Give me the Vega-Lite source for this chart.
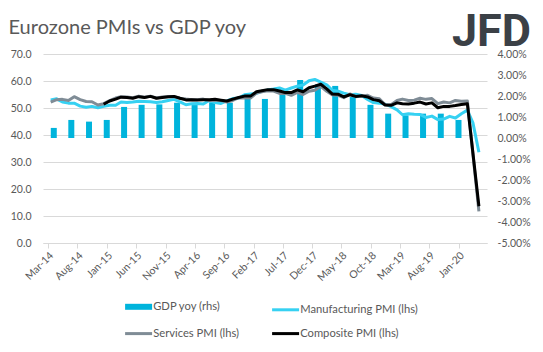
{
  "$schema": "https://vega.github.io/schema/vega-lite/v6.json",
  "width": 444,
  "height": 189,
  "autosize": "none",
  "padding": {"left": 43, "top": 54, "right": 56, "bottom": 109},
  "background": "white",
  "config": {"view": {"stroke": null}, "font": "Lato"},
  "datasets": {
    "gdp": [
      {"d": "2014-03-31", "gdp": 0.48}, {"d": "2014-06-30", "gdp": 0.86}, {"d": "2014-09-30", "gdp": 0.78}, {"d": "2014-12-31", "gdp": 0.86},
      {"d": "2015-03-31", "gdp": 1.48}, {"d": "2015-06-30", "gdp": 1.58}, {"d": "2015-09-30", "gdp": 1.6}, {"d": "2015-12-31", "gdp": 1.68},
      {"d": "2016-03-31", "gdp": 1.57}, {"d": "2016-06-30", "gdp": 1.7}, {"d": "2016-09-30", "gdp": 1.68}, {"d": "2016-12-31", "gdp": 1.86},
      {"d": "2017-03-31", "gdp": 1.86}, {"d": "2017-06-30", "gdp": 2.06}, {"d": "2017-09-30", "gdp": 2.76}, {"d": "2017-12-31", "gdp": 2.55},
      {"d": "2018-03-31", "gdp": 2.48}, {"d": "2018-06-30", "gdp": 1.95}, {"d": "2018-09-30", "gdp": 1.58}, {"d": "2018-12-31", "gdp": 1.16},
      {"d": "2019-03-31", "gdp": 1.08}, {"d": "2019-06-30", "gdp": 1.16}, {"d": "2019-09-30", "gdp": 1.16}, {"d": "2019-12-31", "gdp": 0.86}
    ],
    "pmi": [
      {"d": "2014-03-15", "mfg": 53.0, "serv": 52.2, "comp": null},
      {"d": "2014-04-15", "mfg": 53.4, "serv": 53.1, "comp": null},
      {"d": "2014-05-15", "mfg": 52.2, "serv": 53.2, "comp": null},
      {"d": "2014-06-15", "mfg": 51.8, "serv": 52.8, "comp": null},
      {"d": "2014-07-15", "mfg": 51.8, "serv": 54.2, "comp": null},
      {"d": "2014-08-15", "mfg": 50.7, "serv": 53.1, "comp": null},
      {"d": "2014-09-15", "mfg": 50.3, "serv": 52.4, "comp": null},
      {"d": "2014-10-15", "mfg": 50.6, "serv": 52.3, "comp": null},
      {"d": "2014-11-15", "mfg": 50.1, "serv": 51.1, "comp": null},
      {"d": "2014-12-15", "mfg": 50.6, "serv": 51.6, "comp": 51.4},
      {"d": "2015-01-15", "mfg": 51.0, "serv": 52.7, "comp": 52.6},
      {"d": "2015-02-15", "mfg": 51.0, "serv": 53.7, "comp": 53.3},
      {"d": "2015-03-15", "mfg": 52.2, "serv": 54.2, "comp": 54.0},
      {"d": "2015-04-15", "mfg": 52.0, "serv": 54.1, "comp": 53.9},
      {"d": "2015-05-15", "mfg": 52.2, "serv": 53.8, "comp": 53.6},
      {"d": "2015-06-15", "mfg": 52.5, "serv": 54.4, "comp": 54.2},
      {"d": "2015-07-15", "mfg": 52.4, "serv": 54.0, "comp": 53.9},
      {"d": "2015-08-15", "mfg": 52.3, "serv": 54.4, "comp": 54.3},
      {"d": "2015-09-15", "mfg": 52.0, "serv": 53.7, "comp": 53.6},
      {"d": "2015-10-15", "mfg": 52.3, "serv": 54.1, "comp": 53.9},
      {"d": "2015-11-15", "mfg": 52.8, "serv": 54.2, "comp": 54.2},
      {"d": "2015-12-15", "mfg": 53.2, "serv": 54.2, "comp": 54.3},
      {"d": "2016-01-15", "mfg": 52.3, "serv": 53.6, "comp": 53.6},
      {"d": "2016-02-15", "mfg": 51.2, "serv": 53.3, "comp": 53.0},
      {"d": "2016-03-15", "mfg": 51.6, "serv": 53.1, "comp": 53.1},
      {"d": "2016-04-15", "mfg": 51.7, "serv": 53.1, "comp": 53.0},
      {"d": "2016-05-15", "mfg": 51.5, "serv": 53.3, "comp": 53.1},
      {"d": "2016-06-15", "mfg": 52.8, "serv": 52.8, "comp": 53.1},
      {"d": "2016-07-15", "mfg": 52.0, "serv": 52.9, "comp": 53.2},
      {"d": "2016-08-15", "mfg": 51.7, "serv": 52.8, "comp": 52.9},
      {"d": "2016-09-15", "mfg": 52.6, "serv": 52.2, "comp": 52.6},
      {"d": "2016-10-15", "mfg": 53.5, "serv": 52.8, "comp": 53.3},
      {"d": "2016-11-15", "mfg": 53.7, "serv": 53.8, "comp": 53.9},
      {"d": "2016-12-15", "mfg": 54.9, "serv": 53.7, "comp": 54.4},
      {"d": "2017-01-15", "mfg": 55.2, "serv": 53.7, "comp": 54.4},
      {"d": "2017-02-15", "mfg": 55.4, "serv": 55.5, "comp": 56.0},
      {"d": "2017-03-15", "mfg": 56.2, "serv": 56.0, "comp": 56.4},
      {"d": "2017-04-15", "mfg": 56.7, "serv": 56.4, "comp": 56.8},
      {"d": "2017-05-15", "mfg": 57.0, "serv": 56.3, "comp": 56.8},
      {"d": "2017-06-15", "mfg": 57.4, "serv": 55.4, "comp": 56.3},
      {"d": "2017-07-15", "mfg": 56.6, "serv": 55.4, "comp": 55.7},
      {"d": "2017-08-15", "mfg": 57.4, "serv": 54.7, "comp": 55.7},
      {"d": "2017-09-15", "mfg": 58.1, "serv": 55.8, "comp": 56.7},
      {"d": "2017-10-15", "mfg": 58.5, "serv": 55.0, "comp": 56.0},
      {"d": "2017-11-15", "mfg": 60.1, "serv": 56.2, "comp": 57.5},
      {"d": "2017-12-15", "mfg": 60.6, "serv": 56.6, "comp": 58.1},
      {"d": "2018-01-15", "mfg": 59.6, "serv": 58.0, "comp": 58.8},
      {"d": "2018-02-15", "mfg": 58.6, "serv": 56.2, "comp": 57.1},
      {"d": "2018-03-15", "mfg": 56.6, "serv": 54.9, "comp": 55.2},
      {"d": "2018-04-15", "mfg": 56.2, "serv": 54.7, "comp": 55.1},
      {"d": "2018-05-15", "mfg": 55.5, "serv": 53.8, "comp": 54.1},
      {"d": "2018-06-15", "mfg": 54.9, "serv": 55.2, "comp": 54.9},
      {"d": "2018-07-15", "mfg": 55.1, "serv": 54.2, "comp": 54.3},
      {"d": "2018-08-15", "mfg": 54.6, "serv": 54.4, "comp": 54.5},
      {"d": "2018-09-15", "mfg": 53.2, "serv": 54.7, "comp": 54.1},
      {"d": "2018-10-15", "mfg": 52.0, "serv": 53.7, "comp": 53.1},
      {"d": "2018-11-15", "mfg": 51.8, "serv": 53.4, "comp": 52.7},
      {"d": "2018-12-15", "mfg": 51.4, "serv": 51.2, "comp": 51.1},
      {"d": "2019-01-15", "mfg": 50.5, "serv": 51.2, "comp": 51.0},
      {"d": "2019-02-15", "mfg": 49.3, "serv": 52.8, "comp": 51.9},
      {"d": "2019-03-15", "mfg": 47.5, "serv": 53.3, "comp": 51.6},
      {"d": "2019-04-15", "mfg": 47.9, "serv": 52.8, "comp": 51.5},
      {"d": "2019-05-15", "mfg": 47.7, "serv": 52.9, "comp": 51.8},
      {"d": "2019-06-15", "mfg": 47.6, "serv": 53.6, "comp": 52.2},
      {"d": "2019-07-15", "mfg": 46.5, "serv": 53.2, "comp": 51.5},
      {"d": "2019-08-15", "mfg": 47.0, "serv": 53.5, "comp": 51.9},
      {"d": "2019-09-15", "mfg": 45.7, "serv": 51.6, "comp": 50.1},
      {"d": "2019-10-15", "mfg": 45.9, "serv": 52.2, "comp": 50.6},
      {"d": "2019-11-15", "mfg": 46.9, "serv": 51.9, "comp": 50.6},
      {"d": "2019-12-15", "mfg": 46.3, "serv": 52.8, "comp": 50.9},
      {"d": "2020-01-15", "mfg": 47.9, "serv": 52.5, "comp": 51.3},
      {"d": "2020-02-15", "mfg": 49.2, "serv": 52.6, "comp": 51.6},
      {"d": "2020-03-15", "mfg": 44.5, "serv": null, "comp": null},
      {"d": "2020-04-15", "mfg": 33.6, "serv": 11.7, "comp": 13.6}
    ]
  },
  "encoding": {
    "x": {
      "field": "d",
      "type": "temporal",
      "title": null,
      "scale": {"type": "utc", "domain": [{"year": 2014, "month": 3, "date": 1, "utc": true}, {"year": 2020, "month": 5, "date": 1, "utc": true}]},
      "axis": {
        "values": [
          {"year": 2014, "month": 3, "date": 1, "utc": true}, {"year": 2014, "month": 8, "date": 1, "utc": true},
          {"year": 2015, "month": 1, "date": 1, "utc": true}, {"year": 2015, "month": 6, "date": 1, "utc": true},
          {"year": 2015, "month": 11, "date": 1, "utc": true}, {"year": 2016, "month": 4, "date": 1, "utc": true},
          {"year": 2016, "month": 9, "date": 1, "utc": true}, {"year": 2017, "month": 2, "date": 1, "utc": true},
          {"year": 2017, "month": 7, "date": 1, "utc": true}, {"year": 2017, "month": 12, "date": 1, "utc": true},
          {"year": 2018, "month": 5, "date": 1, "utc": true}, {"year": 2018, "month": 10, "date": 1, "utc": true},
          {"year": 2019, "month": 3, "date": 1, "utc": true}, {"year": 2019, "month": 8, "date": 1, "utc": true},
          {"year": 2020, "month": 1, "date": 1, "utc": true}
        ],
        "labelExpr": "utcFormat(datum.value, '%b-%y')",
        "labelAngle": -45,
        "labelFontSize": 10.5,
        "labelColor": "#595959",
        "labelFont": "Lato",
        "labelPadding": 2,
        "labelOverlap": false,
        "labelFlush": false,
        "grid": false,
        "domainColor": "#d9d9d9",
        "tickColor": "#d9d9d9",
        "tickSize": 5
      }
    }
  },
  "layer": [
    {
      "data": {"name": "gdp"},
      "mark": {"type": "bar", "size": 6},
      "encoding": {
        "y": {
          "field": "gdp",
          "type": "quantitative",
          "scale": {"domain": [-5, 4], "nice": false},
          "axis": {
            "orient": "right",
            "title": "JFD",
            "values": [-5, -4, -3, -2, -1, 0, 1, 2, 3, 4],
            "labelExpr": "replace(format(datum.value, '.2f'), '\u2212', '-') + '%'",
            "labelOverlap": false,
            "labelAlign": "left",
            "grid": false,
            "domain": false,
            "ticks": false,
            "labelPadding": 10,
            "labelFontSize": 10.5,
            "labelColor": "#595959",
            "labelFont": "Lato",
            "titleAngle": 0,
            "titleX": 4,
            "titleY": -9,
            "titleAlign": "center",
            "titleBaseline": "alphabetic",
            "titleFont": "Roboto",
            "titleFontSize": 45,
            "titleFontWeight": "bold",
            "titleColor": "#3b4046"
          }
        },
        "color": {
          "datum": "GDP yoy (rhs)",
          "scale": {
            "domain": ["GDP yoy (rhs)", "Services PMI (lhs)", "Manufacturing PMI (lhs)", "Composite PMI (lhs)"],
            "range": ["#00b4dc", "#7f8c96", "#36d1f2", "#000000"]
          },
          "legend": {
            "orient": "none",
            "legendX": 90,
            "legendY": 247,
            "columns": 2,
            "title": null,
            "symbolType": "stroke",
            "symbolSize": 729,
            "symbolStrokeWidth": 3,
            "labelFont": "Lato",
            "labelFontSize": 11.2,
            "labelColor": "#595959",
            "labelOffset": 9,
            "columnPadding": 26,
            "rowPadding": 8,
            "encode": {
              "symbols": {
                "update": {
                  "strokeWidth": {"signal": "datum.label === 'GDP yoy (rhs)' ? 6 : 3"},
                  "stroke": {"scale": "color", "field": "value"},
                  "fill": {"value": "transparent"}
                }
              }
            }
          }
        }
      }
    },
    {
      "layer": [
        {
          "data": {"name": "pmi"},
          "mark": {"type": "line", "strokeWidth": 3, "invalid": "filter", "strokeJoin": "round"},
          "encoding": {
            "y": {
              "field": "mfg",
              "type": "quantitative",
              "scale": {"domain": [0, 70], "nice": false},
              "axis": {
                "orient": "left",
                "title": "Eurozone PMIs vs GDP yoy",
                "values": [0, 10, 20, 30, 40, 50, 60, 70],
                "format": ".1f",
                "labelOverlap": false,
                "grid": true,
                "gridColor": "#d9d9d9",
                "domain": false,
                "ticks": false,
                "labelPadding": 12,
                "labelFontSize": 10.5,
                "labelColor": "#595959",
                "labelFont": "Lato",
                "titleAngle": 0,
                "titleX": -35,
                "titleY": -21,
                "titleAlign": "left",
                "titleBaseline": "alphabetic",
                "titleFont": "Lato",
                "titleFontSize": 20,
                "titleFontWeight": "normal",
                "titleColor": "#595959"
              }
            },
            "color": {"datum": "Manufacturing PMI (lhs)"}
          }
        },
        {
          "data": {"name": "pmi"},
          "mark": {"type": "line", "strokeWidth": 3, "invalid": "filter", "strokeJoin": "round"},
          "encoding": {
            "y": {
              "field": "serv",
              "type": "quantitative",
              "scale": {"domain": [0, 70], "nice": false},
              "axis": {
                "orient": "left",
                "title": "Eurozone PMIs vs GDP yoy",
                "values": [0, 10, 20, 30, 40, 50, 60, 70],
                "format": ".1f",
                "labelOverlap": false,
                "grid": true,
                "gridColor": "#d9d9d9",
                "domain": false,
                "ticks": false,
                "labelPadding": 12,
                "labelFontSize": 10.5,
                "labelColor": "#595959",
                "labelFont": "Lato",
                "titleAngle": 0,
                "titleX": -35,
                "titleY": -21,
                "titleAlign": "left",
                "titleBaseline": "alphabetic",
                "titleFont": "Lato",
                "titleFontSize": 20,
                "titleFontWeight": "normal",
                "titleColor": "#595959"
              }
            },
            "color": {"datum": "Services PMI (lhs)"}
          }
        },
        {
          "data": {"name": "pmi"},
          "mark": {"type": "line", "strokeWidth": 3, "invalid": "filter", "strokeJoin": "round"},
          "encoding": {
            "y": {
              "field": "comp",
              "type": "quantitative",
              "scale": {"domain": [0, 70], "nice": false},
              "axis": {
                "orient": "left",
                "title": "Eurozone PMIs vs GDP yoy",
                "values": [0, 10, 20, 30, 40, 50, 60, 70],
                "format": ".1f",
                "labelOverlap": false,
                "grid": true,
                "gridColor": "#d9d9d9",
                "domain": false,
                "ticks": false,
                "labelPadding": 12,
                "labelFontSize": 10.5,
                "labelColor": "#595959",
                "labelFont": "Lato",
                "titleAngle": 0,
                "titleX": -35,
                "titleY": -21,
                "titleAlign": "left",
                "titleBaseline": "alphabetic",
                "titleFont": "Lato",
                "titleFontSize": 20,
                "titleFontWeight": "normal",
                "titleColor": "#595959"
              }
            },
            "color": {"datum": "Composite PMI (lhs)"}
          }
        }
      ]
    }
  ],
  "resolve": {"scale": {"y": "independent"}}
}
